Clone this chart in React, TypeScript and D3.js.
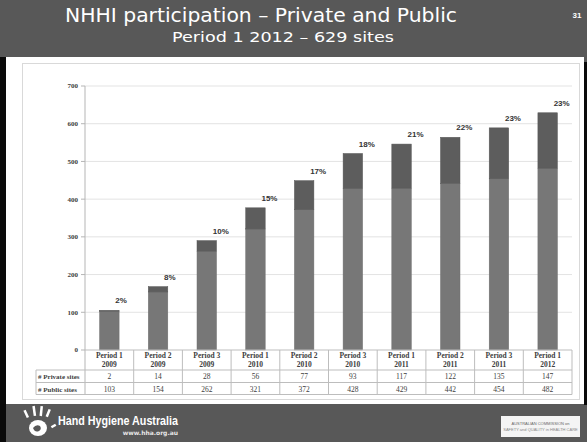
import * as d3 from "d3";

const periods = ["Period 1", "Period 2", "Period 3", "Period 1", "Period 2", "Period 3", "Period 1", "Period 2", "Period 3", "Period 1"];
const years = ["2009", "2009", "2009", "2010", "2010", "2010", "2011", "2011", "2011", "2012"];
const privateSites = [2, 14, 28, 56, 77, 93, 117, 122, 135, 147];
const publicSites = [103, 154, 262, 321, 372, 428, 429, 442, 454, 482];
const privatePct = ["2%", "8%", "10%", "15%", "17%", "18%", "21%", "22%", "23%", "23%"];
const yTicks = [0, 100, 200, 300, 400, 500, 600, 700];
const rowLabels = ["# Private sites", "# Public sites"];

const W = 587;
const H = 442;
const PLOT = { left: 85, right: 572, top: 86, bottom: 350 };
const TABLE = { left: 36, headBottom: 370, row1: 382.5, row2: 394.5 };
const PUBLIC_COL = "#777777";
const PRIVATE_COL = "#5d5d5d";
const SERIF = "'Liberation Serif', 'DejaVu Serif', serif";

export default function App() {
  const keys = periods.map((p, i) => `${p} ${years[i]}`);
  const x = d3.scaleBand().domain(keys).range([PLOT.left, PLOT.right]).paddingInner(0.6).paddingOuter(0.3);
  const col = d3.scaleBand().domain(keys).range([PLOT.left, PLOT.right]).padding(0);
  const y = d3.scaleLinear().domain([0, 700]).range([PLOT.bottom, PLOT.top]);

  const rows = keys.map((k, i) => ({ k, pub: publicSites[i], pri: privateSites[i], total: publicSites[i] + privateSites[i] }));

  return (
    <svg width={W} height={H} style={{ position: "absolute", left: 0, top: 0 }}>
      {/* slide background */}
      <rect x={0} y={0} width={W} height={H} fill="#585858" />
      <rect x={0} y={57} width={6} height={H - 57} fill="#0a0a0a" />
      <rect x={584} y={62} width={3} height={343} fill="#0a0a0a" />
      <rect x={6} y={57} width={578} height={347} fill="#ffffff" />
      <rect x={22.5} y={63.5} width={557} height={336} fill="none" stroke="#d9d9d9" />

      {/* header */}
      <text x={261} y={22} textAnchor="middle" fill="#fff" fontFamily="'DejaVu Sans', sans-serif" fontSize={20} textLength={392} lengthAdjust="spacingAndGlyphs">
        NHHI participation – Private and Public
      </text>
      <text x={283} y={42} textAnchor="middle" fill="#fff" fontFamily="'DejaVu Sans', sans-serif" fontSize={13.5} textLength={222} lengthAdjust="spacingAndGlyphs">
        Period 1 2012 – 629 sites
      </text>
      <text x={577} y={18} textAnchor="middle" fill="#fff" fontFamily="'Liberation Sans', sans-serif" fontWeight="bold" fontSize={8}>
        31
      </text>

      {/* grid + y axis */}
      {yTicks.map((t) => (
        <g key={t}>
          {t > 0 && <line x1={PLOT.left} x2={PLOT.right} y1={y(t)} y2={y(t)} stroke="#e3e3e3" strokeWidth={1} />}
          <line x1={PLOT.left - 4} x2={PLOT.left} y1={y(t)} y2={y(t)} stroke="#b5b5b5" />
          <text x={PLOT.left - 7} y={y(t)} dy="0.35em" textAnchor="end" fontFamily={SERIF} fontWeight="bold" fontSize={7} fill="#404040">
            {t}
          </text>
        </g>
      ))}
      <line x1={PLOT.left} x2={PLOT.left} y1={PLOT.top} y2={TABLE.row2} stroke="#b5b5b5" />

      {/* bars */}
      {rows.map((d, i) => {
        const bx = x(d.k) ?? 0;
        const bw = x.bandwidth();
        return (
          <g key={i}>
            <rect x={bx} y={y(d.pub)} width={bw} height={y(0) - y(d.pub)} fill={PUBLIC_COL} stroke="#6e6e6e" strokeWidth={0.5} />
            <rect x={bx} y={y(d.total)} width={bw} height={y(d.pub) - y(d.total)} fill={PRIVATE_COL} stroke="#555" strokeWidth={0.5} />
            <text x={bx + bw / 2 + 6} y={y(d.total) - 7} fontFamily="'Liberation Sans', sans-serif" fontWeight="bold" fontSize={8} fill="#333">
              {privatePct[i]}
            </text>
          </g>
        );
      })}

      {/* data table */}
      <g stroke="#bdbdbd" strokeWidth={1}>
        <line x1={PLOT.left} x2={PLOT.right} y1={PLOT.bottom} y2={PLOT.bottom} />
        <line x1={TABLE.left} x2={PLOT.right} y1={TABLE.headBottom} y2={TABLE.headBottom} />
        <line x1={TABLE.left} x2={PLOT.right} y1={TABLE.row1} y2={TABLE.row1} />
        <line x1={TABLE.left} x2={PLOT.right} y1={TABLE.row2} y2={TABLE.row2} />
        <line x1={TABLE.left} x2={TABLE.left} y1={TABLE.headBottom} y2={TABLE.row2} />
        {keys.map((k) => (
          <line key={k} x1={(col(k) ?? 0) + col.bandwidth()} x2={(col(k) ?? 0) + col.bandwidth()} y1={PLOT.bottom} y2={TABLE.row2} />
        ))}
      </g>
      {keys.map((k, i) => {
        const cx = (col(k) ?? 0) + col.bandwidth() / 2;
        return (
          <g key={k} fontFamily={SERIF} fontSize={7.5} fill="#404040" textAnchor="middle">
            <text x={cx} y={358} fontWeight="bold">{periods[i]}</text>
            <text x={cx} y={367} fontWeight="bold">{years[i]}</text>
            <text x={cx} y={379}>{privateSites[i]}</text>
            <text x={cx} y={391.5}>{publicSites[i]}</text>
          </g>
        );
      })}
      {rowLabels.map((r, i) => (
        <text key={r} x={TABLE.left + 2} y={i === 0 ? 379 : 391.5} fontFamily={SERIF} fontWeight="bold" fontSize={7} fill="#404040">
          {r}
        </text>
      ))}

      {/* footer: Hand Hygiene Australia */}
      <g fill="#fff" stroke="none">
        <ellipse cx={38} cy={428} rx={9} ry={8} />
        <path d="M33,428 q3,-4 7,-2 q2,3 -1,5 q-4,2 -6,-3z" fill="#585858" />
        <rect x={25} y={410} width={2.5} height={8} transform="rotate(-25 26 414)" />
        <rect x={33} y={406} width={2.5} height={10} transform="rotate(-8 34 411)" />
        <rect x={40} y={406} width={2.5} height={10} transform="rotate(6 41 411)" />
        <rect x={47} y={409} width={2.5} height={8} transform="rotate(22 48 413)" />
        <rect x={51} y={425} width={5} height={2.5} transform="rotate(-30 53 426)" />
      </g>
      <text x={58} y={424.5} fill="#fff" fontFamily="'Liberation Sans Narrow', 'Liberation Sans', sans-serif" fontWeight="bold" fontSize={12.5} textLength={120} lengthAdjust="spacingAndGlyphs">
        Hand Hygiene Australia
      </text>
      <text x={178} y={434.5} textAnchor="end" fill="#e6e6e6" fontFamily="'DejaVu Sans', sans-serif" fontWeight="bold" fontSize={6}>
        www.hha.org.au
      </text>

      {/* footer: commission logo */}
      <rect x={501} y={416} width={79} height={21} fill="#f4f4f4" />
      <text x={540.5} y={425} textAnchor="middle" fontFamily="'Liberation Sans Narrow', 'Liberation Sans', sans-serif" fontSize={4} fill="#666">
        AUSTRALIAN COMMISSION on
      </text>
      <text x={540.5} y={431} textAnchor="middle" fontFamily="'Liberation Sans Narrow', 'Liberation Sans', sans-serif" fontSize={4} fill="#888">
        SAFETY and QUALITY in HEALTH CARE
      </text>
    </svg>
  );
}
